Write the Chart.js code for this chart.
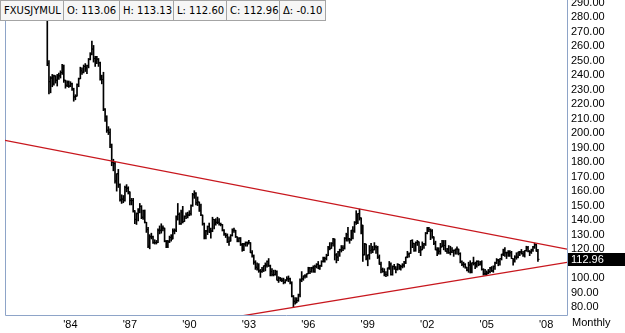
<!DOCTYPE html>
<html>
<head>
<meta charset="utf-8">
<script src="https://cdn.jsdelivr.net/npm/chart.js@4.4.1/dist/chart.umd.min.js"></script>
<style>
  html, body { margin: 0; padding: 0; background: #fff; overflow: hidden; }
  #wrap { position: relative; width: 625px; height: 333px; overflow: hidden; }
  #chart { position: absolute; left: 0; top: -10px; }
  #info { position: absolute; left: 0; top: 0; display: flex; font: 10px "DejaVu Sans", sans-serif; color: #000; }
  #info div { box-sizing: border-box; height: 21px; line-height: 19px; padding: 0 3px; border: 1px solid #a4a4a4; border-left: none; background: #f6f6f6; white-space: nowrap; overflow: hidden; }
  #info div:first-child { border-left: 1px solid #a4a4a4; }
  #period { position: absolute; left: 572px; top: 316px; font: 11px "Liberation Sans", Arial, sans-serif; color: #000; }
</style>
</head>
<body>
<div id="wrap">
  <canvas id="chart" width="625" height="343"></canvas>
  <div id="info">
    <div style="width:64px">FXUSJYMUL</div>
    <div style="width:56px">O: 113.06</div>
    <div style="width:54px">H: 113.13</div>
    <div style="width:53px">L: 112.60</div>
    <div style="width:53px">C: 112.96</div>
    <div style="width:46px">&Delta;: -0.10</div>
  </div>
  <div id="period">Monthly</div>
</div>
<script>
// monthly USD/JPY bars, Nov 1982 .. Aug 2007 (one line per year)
var startYear = 1982, startMonth = 11;

var opens = [
  278.0, 248.0,
  235.5, 238.0, 234.0, 239.5, 236.5, 240.0, 239.5, 241.8, 246.0, 236.5, 233.0, 235.0,
  232.5, 234.0, 230.5, 225.0, 225.5, 233.5, 237.5, 243.0, 242.0, 246.0, 245.0, 246.5,
  251.0, 254.5, 258.0, 251.5, 250.0, 251.0, 248.5, 237.0, 237.0, 216.5, 211.5, 202.0,
  200.5, 192.0, 180.0, 179.0, 167.0, 172.0, 164.5, 154.0, 154.5, 153.5, 162.5, 162.0,
  159.5, 153.5, 153.5, 146.5, 140.5, 144.5, 146.5, 149.5, 142.0, 146.5, 138.5, 133.5,
  122.0, 128.5, 128.5, 124.5, 124.5, 124.5, 133.0, 133.0, 134.5, 134.5, 125.5, 122.0,
  125.0, 128.0, 127.0, 132.5, 133.0, 142.5, 144.0, 137.5, 145.5, 139.0, 142.5, 143.5,
  143.5, 144.5, 150.0, 157.5, 158.5, 152.0, 152.5, 146.5, 143.5, 137.5, 129.5, 132.5,
  135.5, 131.5, 132.5, 140.5, 137.0, 138.5, 138.5, 137.5, 137.0, 133.0, 130.5, 129.5,
  125.0, 125.5, 129.5, 133.0, 133.0, 128.5, 125.5, 127.5, 123.0, 119.5, 123.5, 124.5,
  124.5, 124.5, 117.5, 115.5, 111.0, 107.5, 106.5, 105.0, 104.5, 105.5, 108.5, 109.0,
  111.5, 108.5, 104.5, 102.5, 102.5, 104.5, 98.5, 100.0, 99.0, 98.5, 97.0, 98.5,
  99.5, 99.5, 97.0, 87.5, 84.0, 83.0, 84.5, 88.5, 98.5, 99.5, 101.5, 101.5,
  103.0, 107.0, 104.5, 107.0, 104.5, 108.0, 109.5, 106.5, 108.5, 111.5, 114.0, 113.5,
  115.5, 121.0, 120.5, 124.0, 127.0, 116.0, 114.5, 118.0, 119.5, 121.0, 120.5, 127.5,
  130.0, 127.0, 126.5, 133.0, 132.5, 138.5, 138.5, 144.5, 141.5, 136.5, 116.0, 123.5,
  113.5, 116.0, 119.0, 119.5, 119.5, 121.5, 121.0, 114.5, 109.5, 106.0, 104.5, 102.5,
  102.5, 107.0, 109.5, 102.5, 108.0, 107.5, 106.0, 109.5, 106.5, 108.0, 109.0, 110.5,
  114.5, 116.5, 117.0, 126.0, 124.0, 119.0, 124.5, 125.0, 119.0, 119.5, 122.5, 123.5,
  131.0, 134.5, 133.5, 132.5, 128.5, 124.0, 119.5, 119.5, 118.5, 121.5, 122.5, 122.5,
  118.5, 120.0, 117.5, 118.0, 119.0, 119.0, 120.0, 120.0, 117.0, 111.5, 109.5, 109.5,
  107.5, 105.5, 109.0, 104.0, 110.5, 110.0, 109.0, 111.5, 109.5, 110.5, 106.0, 103.0,
  103.0, 103.5, 104.5, 107.0, 105.0, 108.0, 110.5, 112.5, 111.5, 113.5, 116.5, 119.5,
  117.5, 117.5, 115.5, 117.5, 113.5, 112.5, 114.5, 114.5, 118.0, 118.0, 117.0, 116.0,
  119.0, 121.0, 118.5, 118.0, 119.5, 121.5, 123.0, 118.5
];

var highs = [
  278.5, 250.0,
  239.0, 240.5, 240.0, 239.5, 240.5, 241.5, 243.0, 247.5, 247.0, 236.5, 236.0, 236.0,
  235.5, 234.5, 231.0, 226.5, 234.0, 238.0, 245.5, 245.0, 247.0, 248.0, 247.0, 251.5,
  255.5, 263.5, 260.5, 253.0, 253.0, 251.5, 249.0, 240.0, 242.0, 217.0, 212.0, 204.5,
  203.0, 192.5, 182.0, 180.0, 172.0, 175.0, 165.0, 157.5, 157.0, 163.5, 164.5, 163.0,
  159.5, 155.0, 155.0, 146.5, 145.0, 148.0, 151.5, 150.0, 147.0, 147.0, 138.5, 135.0,
  130.0, 131.0, 129.0, 126.5, 126.0, 134.0, 136.0, 137.5, 136.0, 134.5, 126.0, 126.0,
  129.0, 130.0, 134.0, 134.0, 143.0, 151.5, 145.0, 147.0, 149.5, 143.0, 145.0, 145.5,
  146.5, 150.5, 158.5, 160.3, 159.0, 156.0, 152.5, 151.0, 143.5, 138.0, 133.0, 136.0,
  138.0, 134.5, 142.0, 140.5, 141.0, 142.0, 141.0, 138.0, 137.0, 133.5, 131.0, 130.5,
  128.5, 130.0, 134.0, 134.5, 133.0, 128.5, 128.0, 128.0, 124.0, 124.0, 125.0, 125.0,
  126.0, 124.5, 119.0, 116.0, 112.0, 110.5, 110.0, 106.0, 107.5, 108.5, 110.5, 112.0,
  113.5, 109.0, 106.5, 105.5, 105.5, 105.0, 101.0, 100.5, 100.0, 100.0, 99.0, 101.0,
  101.5, 100.0, 97.5, 88.0, 86.5, 86.5, 89.0, 99.5, 104.5, 101.5, 102.5, 103.0,
  107.5, 107.5, 107.5, 108.5, 109.0, 110.0, 111.5, 109.0, 112.0, 114.5, 114.5, 116.5,
  122.0, 124.5, 124.5, 127.5, 127.0, 117.0, 118.5, 120.0, 122.5, 122.5, 128.0, 131.0,
  135.0, 127.5, 133.0, 135.5, 139.0, 146.5, 144.5, 147.6, 141.5, 136.5, 124.0, 123.5,
  116.0, 122.5, 124.0, 122.0, 124.5, 122.5, 122.0, 116.0, 111.0, 107.0, 106.5, 104.5,
  107.0, 111.5, 110.5, 108.5, 109.5, 108.0, 110.0, 109.5, 109.0, 110.0, 111.5, 114.5,
  118.5, 117.5, 126.0, 126.5, 124.0, 125.0, 126.0, 125.0, 122.0, 125.0, 124.0, 131.5,
  135.0, 135.0, 134.0, 133.5, 128.5, 125.5, 121.0, 121.0, 124.0, 126.0, 126.0, 126.0,
  120.5, 122.5, 122.0, 121.0, 119.5, 120.0, 121.5, 120.0, 117.5, 112.0, 111.0, 110.0,
  107.5, 111.0, 112.0, 110.5, 114.5, 111.0, 112.0, 112.0, 111.5, 112.0, 106.5, 106.0,
  105.0, 106.0, 107.5, 108.0, 108.5, 111.0, 113.5, 113.0, 113.5, 116.5, 120.0, 121.0,
  118.0, 119.0, 119.0, 118.5, 113.5, 115.5, 117.5, 118.0, 118.5, 119.8, 118.5, 119.0,
  122.0, 122.0, 119.0, 120.0, 122.0, 124.1, 123.5, 119.8
];

var lows = [
  246.5, 227.0,
  227.8, 232.0, 233.0, 234.5, 232.5, 237.0, 238.0, 240.5, 235.0, 231.0, 232.0, 231.5,
  232.0, 229.5, 222.0, 223.0, 225.5, 232.0, 237.5, 240.5, 241.5, 242.5, 241.0, 245.0,
  250.5, 254.0, 249.0, 246.0, 248.0, 246.0, 236.5, 234.0, 215.5, 208.0, 200.5, 199.0,
  190.0, 177.5, 174.0, 165.5, 160.0, 162.5, 153.0, 151.5, 152.0, 153.0, 159.5, 158.0,
  150.5, 150.5, 145.5, 137.5, 137.0, 139.5, 145.0, 141.0, 140.5, 138.0, 131.5, 121.0,
  120.2, 127.0, 124.0, 123.5, 123.5, 124.5, 130.5, 131.0, 132.5, 125.0, 121.0, 121.0,
  124.5, 125.5, 127.0, 130.5, 132.0, 140.0, 137.0, 137.0, 138.0, 139.0, 141.0, 141.5,
  143.0, 143.5, 149.5, 155.0, 150.5, 150.0, 146.0, 143.0, 136.5, 127.0, 127.0, 130.0,
  131.5, 127.5, 132.0, 134.0, 136.5, 137.5, 136.5, 136.0, 132.5, 129.5, 128.0, 124.5,
  122.5, 125.5, 129.0, 131.5, 128.0, 125.0, 125.0, 122.5, 118.5, 119.0, 122.0, 122.0,
  123.5, 117.5, 114.5, 109.5, 106.0, 105.5, 104.0, 100.5, 104.0, 104.5, 105.0, 107.5,
  108.0, 101.5, 101.5, 101.5, 102.0, 98.5, 97.0, 98.0, 97.5, 96.0, 96.5, 98.0,
  97.5, 96.0, 87.0, 79.8, 82.0, 83.0, 84.0, 87.0, 97.5, 98.5, 100.0, 100.5,
  103.0, 103.0, 104.0, 104.0, 104.0, 107.0, 106.5, 106.0, 108.0, 111.0, 111.0, 112.5,
  115.5, 119.5, 120.5, 122.0, 112.5, 110.5, 112.0, 115.0, 118.0, 119.0, 120.0, 125.5,
  125.5, 124.0, 126.0, 127.0, 131.5, 137.0, 137.5, 140.0, 130.5, 111.5, 116.0, 112.5,
  108.5, 113.0, 117.0, 117.5, 119.5, 117.0, 113.5, 109.5, 103.5, 104.0, 101.5, 101.0,
  101.5, 106.0, 102.0, 102.0, 106.0, 103.5, 105.5, 106.0, 105.5, 107.0, 107.5, 110.0,
  114.0, 114.5, 117.0, 121.0, 118.5, 118.5, 122.5, 117.5, 115.5, 119.5, 120.5, 122.5,
  130.5, 132.0, 126.5, 127.5, 123.0, 119.5, 115.5, 116.5, 116.5, 121.5, 119.5, 118.5,
  117.0, 117.0, 116.0, 117.5, 115.0, 116.5, 116.5, 116.0, 110.5, 108.5, 107.5, 106.8,
  105.0, 104.0, 103.5, 103.5, 109.0, 106.5, 107.5, 108.5, 109.0, 105.5, 102.0, 102.0,
  101.7, 103.0, 103.5, 104.5, 104.0, 106.0, 110.0, 108.5, 109.0, 112.5, 115.5, 115.0,
  113.5, 115.0, 115.0, 113.5, 108.9, 111.0, 113.0, 114.0, 115.5, 116.5, 115.0, 114.5,
  118.5, 118.0, 115.5, 117.0, 118.5, 120.5, 118.5, 111.6
];

var closes = [
  248.0, 235.5,
  238.0, 234.0, 239.5, 236.5, 240.0, 239.5, 241.8, 246.0, 236.5, 233.0, 235.0, 232.5,
  234.0, 230.5, 225.0, 225.5, 233.5, 237.5, 243.0, 242.0, 246.0, 245.0, 246.5, 251.0,
  254.5, 258.0, 251.5, 250.0, 251.0, 248.5, 237.0, 237.0, 216.5, 211.5, 202.0, 200.5,
  192.0, 180.0, 179.0, 167.0, 172.0, 164.5, 154.0, 154.5, 153.5, 162.5, 162.0, 159.5,
  153.5, 153.5, 146.5, 140.5, 144.5, 146.5, 149.5, 142.0, 146.5, 138.5, 133.5, 122.0,
  128.5, 128.5, 124.5, 124.5, 124.5, 133.0, 133.0, 134.5, 134.5, 125.5, 122.0, 125.0,
  128.0, 127.0, 132.5, 133.0, 142.5, 144.0, 137.5, 145.5, 139.0, 142.5, 143.5, 143.5,
  144.5, 150.0, 157.5, 158.5, 152.0, 152.5, 146.5, 143.5, 137.5, 129.5, 132.5, 135.5,
  131.5, 132.5, 140.5, 137.0, 138.5, 138.5, 137.5, 137.0, 133.0, 130.5, 129.5, 125.0,
  125.5, 129.5, 133.0, 133.0, 128.5, 125.5, 127.5, 123.0, 119.5, 123.5, 124.5, 124.5,
  124.5, 117.5, 115.5, 111.0, 107.5, 106.5, 105.0, 104.5, 105.5, 108.5, 109.0, 111.5,
  108.5, 104.5, 102.5, 102.5, 104.5, 98.5, 100.0, 99.0, 98.5, 97.0, 98.5, 99.5,
  99.5, 97.0, 87.5, 84.0, 83.0, 84.5, 88.5, 98.5, 99.5, 101.5, 101.5, 103.0,
  107.0, 104.5, 107.0, 104.5, 108.0, 109.5, 106.5, 108.5, 111.5, 114.0, 113.5, 115.5,
  121.0, 120.5, 124.0, 127.0, 116.0, 114.5, 118.0, 119.5, 121.0, 120.5, 127.5, 130.0,
  127.0, 126.5, 133.0, 132.5, 138.5, 138.5, 144.5, 141.5, 136.5, 116.0, 123.5, 113.5,
  116.0, 119.0, 119.5, 119.5, 121.5, 121.0, 114.5, 109.5, 106.0, 104.5, 102.5, 102.5,
  107.0, 109.5, 102.5, 108.0, 107.5, 106.0, 109.5, 106.5, 108.0, 109.0, 110.5, 114.5,
  116.5, 117.0, 126.0, 124.0, 119.0, 124.5, 125.0, 119.0, 119.5, 122.5, 123.5, 131.0,
  134.5, 133.5, 132.5, 128.5, 124.0, 119.5, 119.5, 118.5, 121.5, 122.5, 122.5, 118.5,
  120.0, 117.5, 118.0, 119.0, 119.0, 120.0, 120.0, 117.0, 111.5, 109.5, 109.5, 107.5,
  105.5, 109.0, 104.0, 110.5, 110.0, 109.0, 111.5, 109.5, 110.5, 106.0, 103.0, 103.0,
  103.5, 104.5, 107.0, 105.0, 108.0, 110.5, 112.5, 111.5, 113.5, 116.5, 119.5, 117.5,
  117.5, 115.5, 117.5, 113.5, 112.5, 114.5, 114.5, 118.0, 118.0, 117.0, 116.0, 119.0,
  121.0, 118.5, 118.0, 119.5, 121.5, 123.0, 118.5, 112.96
];

// trend lines, [year, price] end points
var upperTrend = [[1980.7, 195.0], [2009.05, 120.0]];
var lowerTrend = [[1992.0, 72.5], [2009.05, 110.9]];

var tickYears = [1984, 1987, 1990, 1993, 1996, 1999, 2002, 2005, 2008];
var tickLabels = ["'84", "'87", "'90", "'93", "'96", "'99", "'02", "'05", "'08"];

var lastClose = closes[closes.length - 1];
var axisFont = { family: 'Liberation Sans', size: 11 };

var times = closes.map(function (c, i) { return startYear + (startMonth - 1 + i) / 12; });

var framePlugin = {
    id: 'frame',
    beforeDatasetsDraw: function (chart) {
        var ctx = chart.ctx, a = chart.chartArea;
        ctx.save();
        ctx.strokeStyle = '#8ea4c8';
        ctx.lineWidth = 1;
        ctx.beginPath();
        ctx.moveTo(a.left + 0.5, a.top);
        ctx.lineTo(a.left + 0.5, a.bottom + 0.5);
        ctx.lineTo(a.right + 0.5, a.bottom + 0.5);
        ctx.lineTo(a.right + 0.5, a.top);
        ctx.stroke();
        ctx.restore();
    },
    afterDraw: function (chart) {
        // last price tag on the axis
        var ctx = chart.ctx, a = chart.chartArea;
        var y = Math.round(chart.scales.y.getPixelForValue(lastClose));
        ctx.save();
        ctx.fillStyle = '#000';
        ctx.fillRect(a.right + 1, y - 6, chart.width - a.right - 1, 13);
        ctx.fillStyle = '#fff';
        ctx.font = '11px "Liberation Sans"';
        ctx.textBaseline = 'middle';
        ctx.textAlign = 'left';
        ctx.fillText(lastClose.toFixed(2), a.right + 4, y + 1);
        ctx.restore();
    }
};

var ctx = document.getElementById('chart').getContext('2d');

var myChart = new Chart(ctx, {
    type: 'bar',
    data: {
        datasets: [{
                type: 'line',
                data: upperTrend.map(function (p) { return {x: p[0], y: p[1]}; }),
                borderColor: '#c8171e',
                borderWidth: 1.3,
                pointRadius: 0,
                order: 0
            }, {
                type: 'line',
                data: lowerTrend.map(function (p) { return {x: p[0], y: p[1]}; }),
                borderColor: '#c8171e',
                borderWidth: 1.3,
                pointRadius: 0,
                order: 0
            }, {
                type: 'line',
                data: times.map(function (t, i) { return {x: t, y: closes[i]}; }),
                showLine: false,
                pointStyle: 'dash',
                pointRadius: 1.6,
                pointRotation: 0,
                pointBorderColor: '#000',
                pointBorderWidth: 1,
                order: 1
            }, {
                type: 'line',
                data: times.map(function (t, i) { return {x: t, y: opens[i]}; }),
                showLine: false,
                pointStyle: 'dash',
                pointRadius: 1.6,
                pointRotation: 180,
                pointBorderColor: '#000',
                pointBorderWidth: 1,
                order: 1
            }, {
                type: 'bar',
                data: times.map(function (t, i) { return {x: t, y: [lows[i], highs[i]]}; }),
                backgroundColor: '#000',
                borderWidth: 0,
                barThickness: 1,
                order: 2
            }]
    },
    options: {
        responsive: false,
        animation: false,
        events: [],
        layout: { padding: 0 },
        plugins: { legend: { display: false }, tooltip: { enabled: false } },
        scales: {
            x: {
                type: 'linear',
                offset: false,
                min: 1980.7,
                max: 2009.05,
                grid: { display: false, drawTicks: false },
                border: { display: false },
                afterBuildTicks: function (scale) {
                    scale.ticks = tickYears.map(function (v) { return {value: v}; });
                },
                afterFit: function (scale) {
                    scale.height = 18;
                    scale.paddingLeft = 0;
                    scale.paddingRight = 0;
                },
                ticks: {
                    autoSkip: false,
                    maxRotation: 0,
                    padding: 3,
                    color: '#000',
                    font: axisFont,
                    callback: function (v, i) { return tickLabels[i]; }
                }
            },
            y: {
                type: 'linear',
                position: 'right',
                min: 74.56,
                max: 295.28,
                grid: { display: false, drawTicks: false },
                border: { display: false },
                afterFit: function (scale) {
                    scale.width = 58;
                    scale.paddingTop = 0;
                    scale.paddingBottom = 0;
                },
                ticks: {
                    stepSize: 10,
                    autoSkip: false,
                    includeBounds: false,
                    padding: 4,
                    color: '#000',
                    font: axisFont,
                    callback: function (v) {
                        return Math.abs(v - lastClose) < 5 ? '' : v.toFixed(2);
                    }
                }
            }
        }
    },
    plugins: [framePlugin]
});
</script>
</body>
</html>
